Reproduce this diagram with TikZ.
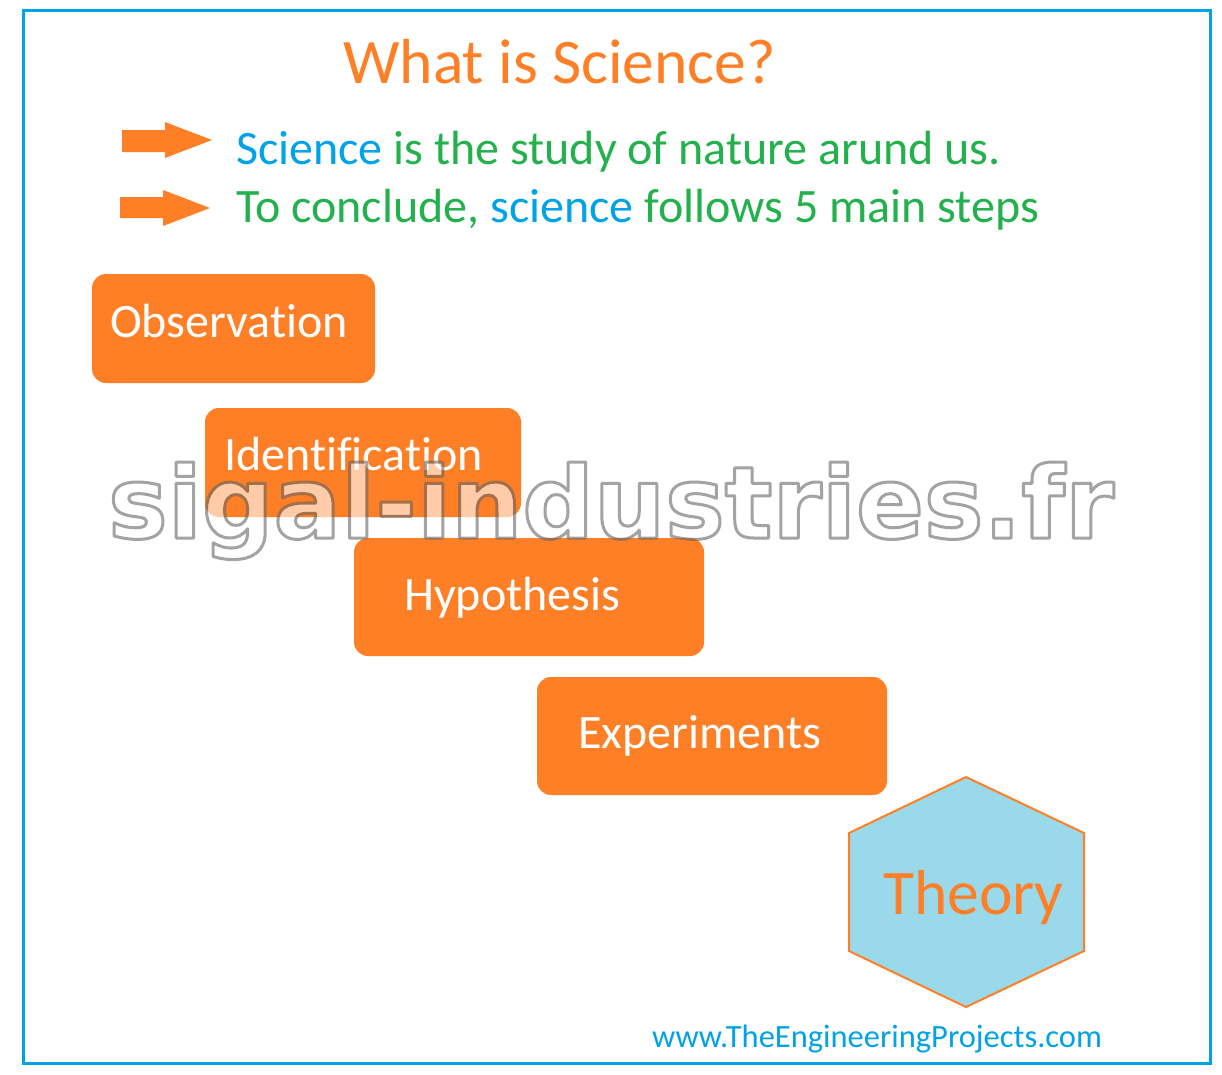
\documentclass[tikz,border=0pt]{standalone}
\usepackage{fontspec}
\setmainfont{Carlito}[Ligatures={NoCommon,TeX}]
\newfontfamily\wmfont{DejaVu Sans}
\definecolor{sorange}{HTML}{FF7F27}
\definecolor{sblue}{HTML}{00A2E8}
\definecolor{sgreen}{HTML}{22B14C}
\definecolor{sturq}{HTML}{99D9EA}
\begin{document}
\begin{tikzpicture}[x=1pt,y=-1pt,
  stepbox/.style={fill=sorange, rounded corners=14pt, inner sep=0pt},
  steptext/.style={anchor=base west, text=white, font=\fontsize{48}{56}\selectfont, inner sep=0pt},
  bigarrow/.style={fill=sorange},
  wmark/.style={inner sep=0pt, font=\wmfont\bfseries\fontsize{100}{110}\selectfont}
]
\useasboundingbox (0,0) rectangle (1222,1074);
\fill[white] (0,0) rectangle (1222,1074);
\draw[sblue, line width=3pt] (23,10) rectangle (1210,1063);

\node[anchor=base west, inner sep=0pt, text=sorange, font=\fontsize{63.5}{70}\selectfont] (title) at (343,83) {What is Science?};

\fill[bigarrow] (122,130) -- (165,130) -- (165,122) -- (212,140) -- (165,158) -- (165,152) -- (122,152) -- cycle;
\fill[bigarrow] (120,197) -- (163,197) -- (163,190) -- (210,208) -- (163,226) -- (163,218) -- (120,218) -- cycle;

\node[anchor=base west, inner sep=0pt, text=sgreen, font=\fontsize{48}{54}\selectfont] (l1) at (236,164)
  {{\color{sblue}Science} is the study of nature arund us.};
\node[anchor=base west, inner sep=0pt, text=sgreen, font=\fontsize{48}{54}\selectfont] (l2) at (236,222)
  {To conclude, {\color{sblue}science} follows 5 main steps};

\node[stepbox, minimum width=283pt, minimum height=109pt] (obs) at (233.5,328.5) {};
\node[steptext] (obst) at (110,337) {Observation};
\node[stepbox, minimum width=316pt, minimum height=109pt] (idf) at (363,462.5) {};
\node[steptext] (idft) at (224,470) {Identification};
\node[stepbox, minimum width=350pt, minimum height=118pt] (hyp) at (529,597) {};
\node[steptext] (hypt) at (404,610) {Hypothesis};
\node[stepbox, minimum width=350pt, minimum height=118pt] (exp) at (712,736) {};
\node[steptext] (expt) at (578,748) {Experiments};

\draw[fill=sturq, draw=sorange, line width=2pt] (966,777) -- (1084,833) -- (1084,951) -- (966,1007) -- (849,951) -- (849,833) -- cycle;
\node[anchor=base west, inner sep=0pt, text=sorange, font=\fontsize{63.5}{70}\selectfont] (theory) at (883,914) {Theory};

\node[anchor=base west, inner sep=0pt, text=sblue, font=\fontsize{32.5}{38}\selectfont] (foot) at (652,1047) {www.TheEngineeringProjects.com};

\begin{scope}[transparency group, opacity=0.6]
  \node[wmark, text=white, anchor=base west] (wm) at (108,538)
    {\special{pdf:code 0.4 G 2 Tr 3 w 1 j}sigal-industries.fr\special{pdf:code 0 Tr 1 w 0 j}};
\end{scope}
\end{tikzpicture}
\end{document}
